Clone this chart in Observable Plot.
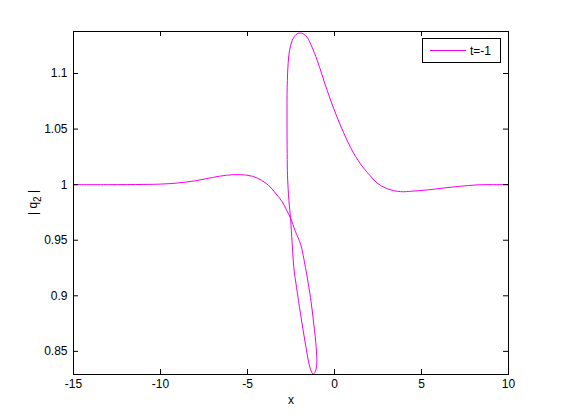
<!DOCTYPE html>
<html>
<head>
<meta charset="utf-8">
<script src="https://cdn.jsdelivr.net/npm/d3@7"></script>
<script src="https://cdn.jsdelivr.net/npm/@observablehq/plot@0.6"></script>
<style>
  html, body { margin: 0; padding: 0; background: #fff; }
  #chart { position: relative; width: 561px; height: 420px; }
</style>
</head>
<body>
<div id="chart"></div>
<script>
// Curve samples (x, |q2|), in drawing order
const xs = [-15, -13, -11, -10, -9, -8, -7, -6.2, -5.4, -4.7, -4.2, -3.8, -3.4, -3.0, -2.75, -2.53, -2.25, -1.95, -1.67, -1.38, -1.19, -1.05, -1.02, -1.1, -1.22, -1.38, -1.67, -1.95, -2.18, -2.34, -2.43, -2.53, -2.62, -2.70, -2.72, -2.73, -2.72, -2.66, -2.58, -2.43, -2.22, -1.99, -1.78, -1.57, -1.3, -0.99, -0.42, 0.15, 0.92, 1.5, 2.0, 2.45, 3.0, 3.8, 4.5, 5.3, 6.3, 7.2, 8.2, 9, 10];
const ys = [1.0, 1.0, 1.0002, 1.0005, 1.0015, 1.0035, 1.0065, 1.0085, 1.009, 1.0075, 1.004, 0.9995, 0.9925, 0.9845, 0.977, 0.970, 0.958, 0.9465, 0.9255, 0.8985, 0.8745, 0.8534, 0.839, 0.832, 0.8295, 0.834, 0.8565, 0.8835, 0.9075, 0.9255, 0.9466, 0.9703, 0.9856, 1.008, 1.028, 1.06, 1.0877, 1.110, 1.121, 1.1297, 1.135, 1.1365, 1.1355, 1.1325, 1.124, 1.1117, 1.0847, 1.0606, 1.0336, 1.0185, 1.009, 1.0015, 0.9965, 0.9937, 0.9942, 0.9952, 0.997, 0.9985, 0.9998, 1.0, 1.0];
const xTicks = [-15, -10, -5, 0, 5, 10];
const yTicks = [0.85, 0.9, 0.95, 1, 1.05, 1.1];
const xDomain = [-15, 10];
const yDomain = [0.8292, 1.1378];
const seriesLabel = "t=-1";
const xLabel = "x";
const yLabelMain = "| q";
const yLabelSub = "2";
const yLabelEnd = " |";

const data = xs.map((x, i) => ({x, y: ys[i]}));
const W = 561, H = 420, ML = 73, MR = 53, MT = 31, MB = 46;
const fw = W - ML - MR, fh = H - MT - MB;
const tk = 5;
const FONT = "'Liberation Sans', Arial, sans-serif";
const LINE = "#f000f0";

const plot = Plot.plot({
  width: W, height: H,
  marginLeft: ML, marginRight: MR, marginTop: MT, marginBottom: MB,
  style: {fontFamily: FONT, fontSize: "12px", color: "black", background: "white"},
  x: {domain: xDomain, ticks: xTicks},
  y: {domain: yDomain, ticks: yTicks},
  marks: [
    Plot.line(data, {x: "x", y: "y", stroke: LINE, strokeWidth: 1, curve: "catmull-rom", clip: true}),
    Plot.frame({stroke: "black", strokeWidth: 1}),
    Plot.tickX(xTicks, {x: d => d, insetTop: fh - tk, stroke: "black"}),
    Plot.tickX(xTicks, {x: d => d, insetBottom: fh - tk, stroke: "black"}),
    Plot.tickY(yTicks, {y: d => d, insetRight: fw - tk, stroke: "black"}),
    Plot.tickY(yTicks, {y: d => d, insetLeft: fw - tk, stroke: "black"}),
    Plot.axisX(xTicks, {tickSize: 0, tickPadding: 5, label: null, tickFormat: d => String(d)}),
    Plot.axisY(yTicks, {tickSize: 0, tickPadding: 6, label: null, tickFormat: d => String(+d.toFixed(2))}),
    Plot.text([xLabel], {frameAnchor: "bottom", dy: 29, text: d => d, fill: "black"})
  ]
});
document.getElementById("chart").appendChild(plot);

const svg = d3.select(plot);

// y label with a real subscript
const yl = svg.append("text")
  .attr("transform", `translate(37,${MT + fh / 2}) rotate(-90)`)
  .attr("text-anchor", "middle").attr("font-family", FONT).attr("font-size", 12).attr("fill", "black");
yl.append("tspan").text(yLabelMain);
yl.append("tspan").attr("dy", 4).attr("font-size", 10).text(yLabelSub);
yl.append("tspan").attr("dy", -4).text(yLabelEnd);

// legend box (MATLAB style, top-right inside axes)
const lg = svg.append("g");
lg.append("rect").attr("x", 422.5).attr("y", 38.5).attr("width", 78).attr("height", 24)
  .attr("fill", "white").attr("stroke", "black");
lg.append("line").attr("x1", 430).attr("x2", 466).attr("y1", 50.5).attr("y2", 50.5)
  .attr("stroke", LINE).attr("stroke-width", 1);
lg.append("text").attr("x", 470).attr("y", 54.5).attr("font-size", 12).attr("text-anchor", "start")
  .attr("font-family", FONT).attr("fill", "black").text(seriesLabel);
</script>
</body>
</html>
